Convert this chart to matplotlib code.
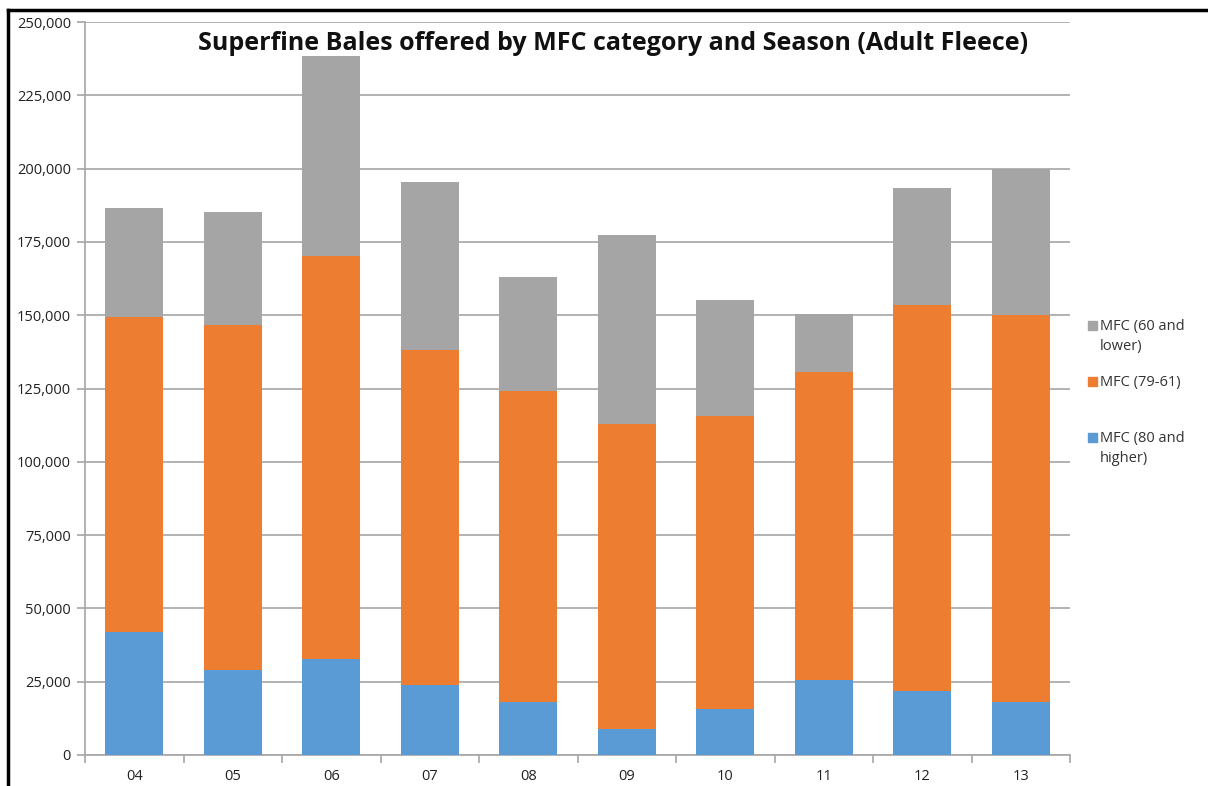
import matplotlib
matplotlib.use("Agg")
import matplotlib.pyplot as plt
import numpy as np
from matplotlib.patches import Rectangle
from matplotlib.lines import Line2D

seasons = ["04", "05", "06", "07", "08", "09", "10", "11", "12", "13"]
mfc_80_higher = [42000, 29000, 32700, 23900, 18100, 8900, 15700, 25600, 21800, 18100]
mfc_79_61 = [107400, 117700, 137500, 114200, 106000, 104000, 99900, 105000, 131700, 132000]
mfc_60_lower = [37200, 38500, 68200, 57300, 38900, 64500, 39600, 19800, 39900, 49800]

c_blue = "#5B9BD5"
c_orange = "#ED7D31"
c_gray = "#A5A5A5"
grid_c = "#A6A6A6"

plt.rcParams['font.family'] = ['Open Sans', 'DejaVu Sans']

W, H = 1208, 786
fig = plt.figure(figsize=(W / 100, H / 100), dpi=100)
ax = fig.add_axes([85/W, 1 - 755/H, (1070-85)/W, (755-22)/H])

x = np.arange(len(seasons))
w = 0.59
b1 = np.array(mfc_80_higher)
b2 = np.array(mfc_79_61)
b3 = np.array(mfc_60_lower)
ax.bar(x, b1, w, color=c_blue, zorder=3)
ax.bar(x, b2, w, bottom=b1, color=c_orange, zorder=3)
ax.bar(x, b3, w, bottom=b1 + b2, color=c_gray, zorder=3)

ax.set_xlim(-0.5, len(seasons) - 0.5)
ax.set_ylim(0, 250000)
yt = np.arange(0, 250001, 25000)
ax.set_yticks(yt)
ax.set_yticklabels([f"{v:,}" for v in yt], fontsize=10.5, color="#222222")
ax.yaxis.grid(True, color=grid_c, linewidth=1.2, zorder=0)
ax.tick_params(axis='y', length=6, color=grid_c, width=1.2, pad=4)

ax.set_xticks(x)
ax.set_xticklabels(seasons, fontsize=10.5, color="#222222")
ax.set_xticks(np.arange(-0.5, len(seasons)), minor=True)
ax.tick_params(axis='x', which='major', length=0, pad=10)
ax.tick_params(axis='x', which='minor', length=6, color=grid_c, width=1.2)

for s in ["top", "right"]:
    ax.spines[s].set_visible(False)
for s in ["left", "bottom"]:
    ax.spines[s].set_color(grid_c)
    ax.spines[s].set_linewidth(1.2)

fig.text(613/W, 1 - 43/H, "Superfine Bales offered by MFC category and Season (Adult Fleece)",
         ha="center", va="center", fontsize=18, fontweight="bold", color="#111111")

# legend (drawn manually to match spacing)
leg_colors = [c_gray, c_orange, c_blue]
leg_labels = ["MFC (60 and\nlower)", "MFC (79-61)", "MFC (80 and\nhigher)"]
leg_y = [325, 381, 437]
for col, lab, yy in zip(leg_colors, leg_labels, leg_y):
    fig.add_artist(Rectangle((1088/W, 1 - (yy + 5)/H), 9/W, 9/H, color=col,
                             transform=fig.transFigure))
    fig.text(1100/W, 1 - (yy - 6)/H, lab, ha="left", va="top", fontsize=10.5,
             color="#333333", linespacing=1.45)

# outer border lines (top and left)
fig.add_artist(Line2D([8/W, 1], [1 - 10/H, 1 - 10/H], color="black", linewidth=2.5,
                      transform=fig.transFigure))
fig.add_artist(Line2D([8/W, 8/W], [0, 1 - 10/H], color="black", linewidth=2.5,
                      transform=fig.transFigure))

fig.savefig("out.png", dpi=100)
